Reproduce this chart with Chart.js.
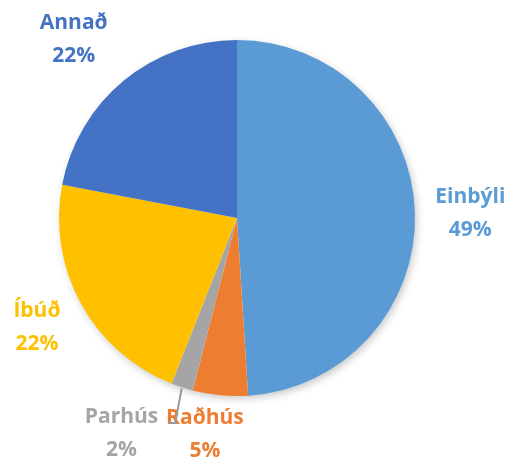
<!DOCTYPE html>
<html>
<head>
<meta charset="utf-8">
<script src="https://cdn.jsdelivr.net/npm/chart.js@4"></script>
<style>
  html, body { margin: 0; padding: 0; background: #fff; }
  #wrap { width: 510px; height: 457px; }
</style>
</head>
<body>
<div id="wrap"><canvas id="pie"></canvas></div>
<script>
// data
const categories = ['Einbýli', 'Raðhús', 'Parhús', 'Íbúð', 'Annað'];
const shares = [49, 5, 2, 22, 22];
const sliceColors = ['#5B9BD5', '#ED7D31', '#A5A5A5', '#FFC000', '#4472C4'];

// label placement: distance from centre (x radius) and small nudge
const labelRadius = [1.30, 1.20, 1.30, 1.27, 1.36];
const labelNudge = [[2, 2], [-12, 3], [-44, -5], [-2, 0], [-9, 8]];

const labelFont = 'bold 21px "Open Sans", "Liberation Sans", sans-serif';

// soft shadow under the whole pie
const pieShadow = {
    id: 'pieShadow',
    beforeDatasetsDraw(chart) {
        const arc = chart.getDatasetMeta(0).data[0];
        if (!arc) return;
        const ctx = chart.ctx;
        ctx.save();
        ctx.shadowColor = 'rgba(0,0,0,0.25)';
        ctx.shadowBlur = 8;
        ctx.shadowOffsetX = 2;
        ctx.shadowOffsetY = 3;
        ctx.fillStyle = '#fff';
        ctx.beginPath();
        ctx.arc(arc.x, arc.y, arc.outerRadius - 1, 0, Math.PI * 2);
        ctx.fill();
        ctx.restore();
    }
};

const outsideLabels = {
    id: 'outsideLabels',
    afterDatasetsDraw(chart) {
        const ctx = chart.ctx;
        const meta = chart.getDatasetMeta(0);
        const total = shares.reduce((a, b) => a + b, 0);
        ctx.save();
        ctx.font = labelFont;
        ctx.textAlign = 'center';
        ctx.textBaseline = 'middle';
        meta.data.forEach((arc, i) => {
            const p = arc.getProps(['x', 'y', 'startAngle', 'endAngle', 'outerRadius'], true);
            const mid = (p.startAngle + p.endAngle) / 2;
            const r = p.outerRadius * labelRadius[i];
            const x = p.x + Math.cos(mid) * r + labelNudge[i][0];
            const y = p.y + Math.sin(mid) * r + labelNudge[i][1];
            const pct = Math.round(shares[i] / total * 100) + '%';

            // leader line for the thin slice
            if (i === 2) {
                const w = ctx.measureText(categories[i]).width;
                const sx = p.x + Math.cos(mid) * (p.outerRadius + 1);
                const sy = p.y + Math.sin(mid) * (p.outerRadius + 1);
                const ex = x + w / 2 + 17;
                const ey = y - 10;
                ctx.strokeStyle = '#999999';
                ctx.lineWidth = 2;
                ctx.beginPath();
                ctx.moveTo(sx, sy);
                ctx.lineTo(ex, ey);
                ctx.lineTo(ex - 7, ey);
                ctx.stroke();
            }

            ctx.fillStyle = sliceColors[i];
            ctx.fillText(categories[i], x, y - 16);
            ctx.fillText(pct, x, y + 17);
        });
        ctx.restore();
    }
};

new Chart(document.getElementById('pie'), {
    type: 'pie',
    data: {
        labels: categories,
        datasets: [{
            data: shares,
            backgroundColor: sliceColors,
            borderWidth: 0
        }]
    },
    options: {
        responsive: true,
        maintainAspectRatio: false,
        animation: false,
        layout: { padding: { top: 40, bottom: 61, left: 59, right: 95 } },
        plugins: {
            legend: { display: false },
            tooltip: { enabled: false }
        }
    },
    plugins: [pieShadow, outsideLabels]
});
</script>
</body>
</html>
